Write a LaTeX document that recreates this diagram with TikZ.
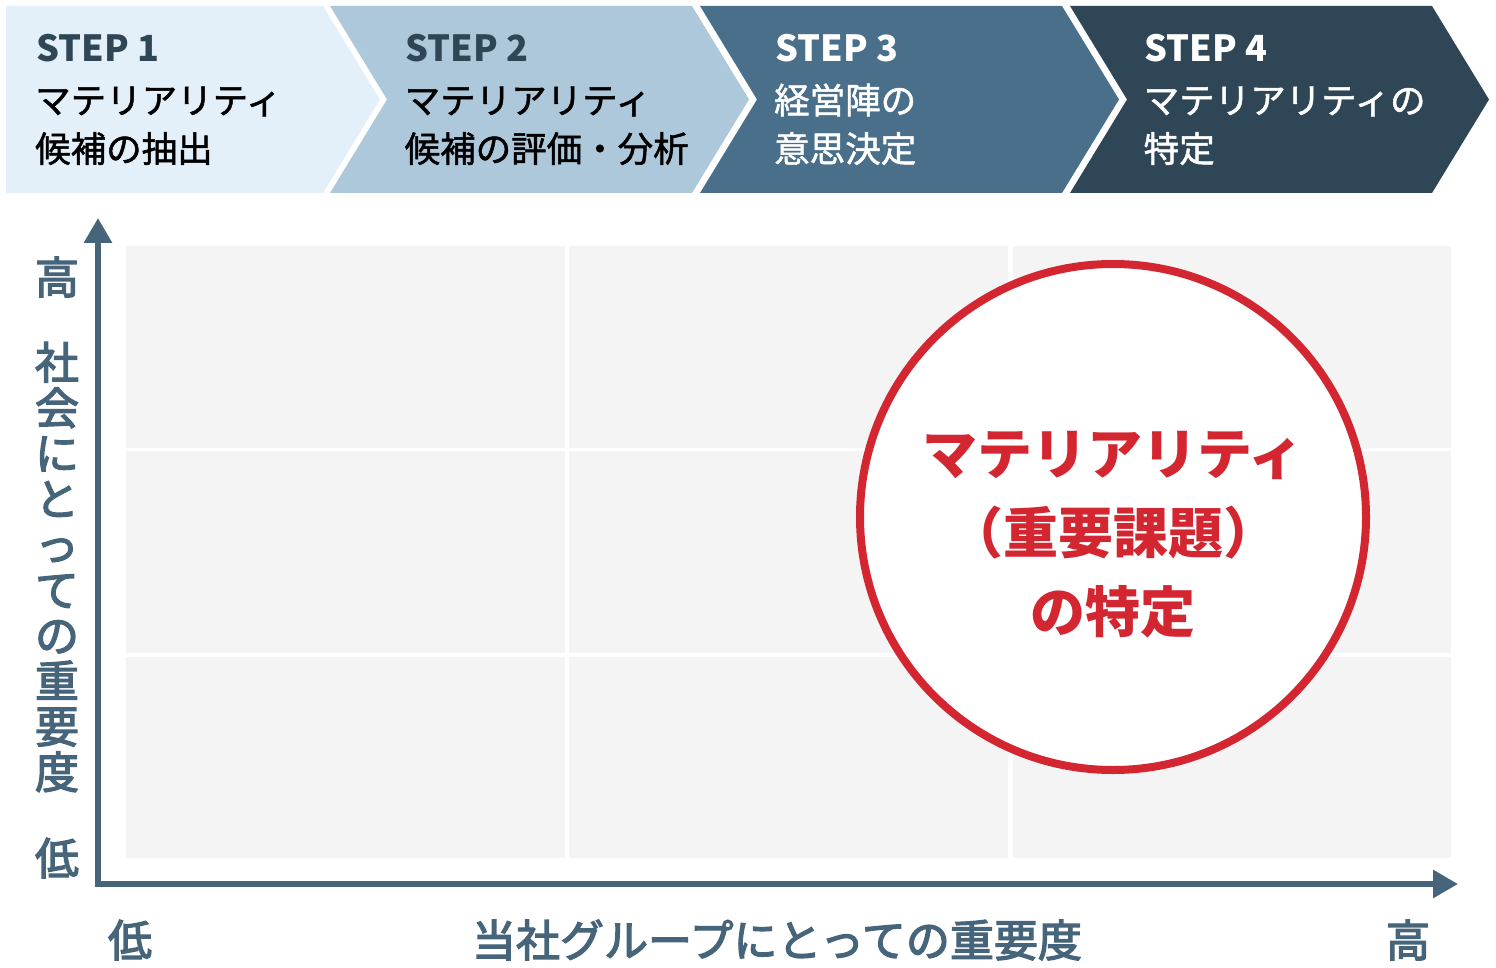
\documentclass[tikz,border=0pt]{standalone}
\usepackage{fontspec}
\setmainfont{Noto Sans CJK JP}
\newfontfamily\jpmed[FakeBold=1.4]{Noto Sans CJK JP}
\newfontfamily\jpsemi[FakeBold=3]{Noto Sans CJK JP}
\usetikzlibrary{arrows.meta}
\definecolor{stepa}{HTML}{E3F0FA}
\definecolor{stepb}{HTML}{ADC8DA}
\definecolor{stepc}{HTML}{4A6F8A}
\definecolor{stepd}{HTML}{2F4656}
\definecolor{cellgray}{HTML}{F4F4F4}
\definecolor{axisblue}{HTML}{46647A}
\definecolor{matred}{HTML}{D32630}
\begin{document}
\begin{tikzpicture}[x=1pt,y=-1pt,
	steplabel/.style={anchor=base west,inner sep=0pt,font=\bfseries\fontsize{36}{40}\selectfont},
	steptext/.style={anchor=base west,inner sep=0pt,align=left,font=\jpmed\fontsize{35.5}{48.5}\selectfont},
	axislabel/.style={inner sep=0pt,text=axisblue,font=\jpsemi\fontsize{44}{45.5}\selectfont},
	axis/.style={draw=axisblue,line width=6pt,{Triangle[width=27pt,length=25pt]}-{Triangle[width=27pt,length=25pt]}}]
	\useasboundingbox (0,0) rectangle (1496,968);
	
	% Pfeilkette der Schritte
	\fill[stepa] (6,6) -- (323,6) -- (380,99.5) -- (323,193) -- (6,193) -- cycle;
	\foreach \c [count=\i from 0] in {stepb,stepc,stepd} {
		\fill[\c] (330+370*\i,6) -- ++(362,0) -- ++(57,93.5) -- ++(-57,93.5) -- ++(-362,0) -- ++(57,-93.5) -- cycle;
	}
	
	% Beschriftung der Schritte
	\foreach \t/\fa/\fb [count=\i from 0] in {{マテリアリティ\\候補の抽出}/stepd/black,
		{マテリアリティ\\候補の評価・分析}/stepd/black,
		{経営陣の\\意思決定}/white/white,
		{マテリアリティの\\特定}/white/white} {
		\node[steplabel,text=\fa] (step\i) at (36+369.5*\i,62) {STEP \the\numexpr\i+1\relax};
		\node[steptext,text=\fb] (desc\i) at (35+369.5*\i,162) {\t};
	}
	
	% Raster 3x3
	\foreach \x in {0,1,2} {
		\foreach \y in {0,1,2} {
			\fill[cellgray] (126+443.3*\x,246+205.3*\y) rectangle ++(438.7,201.7);
		}
	}
	
	% Achsen
	\coordinate (origin) at (98,884);
	\coordinate (ytop) at (98,218);
	\coordinate (xend) at (1458,884);
	\draw[axis] (ytop) -- (origin) -- (xend);
	
	% Beschriftung der Achsen
	\node[axislabel] (yhigh) at (57,277) {高};
	\node[axislabel,align=center] (ytitle) at (57,567) {社\\会\\に\\と\\っ\\て\\の\\重\\要\\度};
	\node[axislabel] (ylow) at (57,858) {低};
	\node[axislabel] (xlow) at (130,940) {低};
	\node[axislabel] (xtitle) at (777,940) {当社グループにとっての重要度};
	\node[axislabel] (xhigh) at (1408,940) {高};
	
	% Kreis mit Ergebnis
	\node[circle,draw=matred,line width=8pt,fill=white,minimum size=506pt,inner sep=0pt] (materiality) at (1113,517) {};
	\node[text=matred,align=center,inner sep=0pt,font=\bfseries\fontsize{55}{79}\selectfont] (matlabel) at (1113,535) {マテリアリティ\\（重要課題）\\の特定};
\end{tikzpicture}
\end{document}
